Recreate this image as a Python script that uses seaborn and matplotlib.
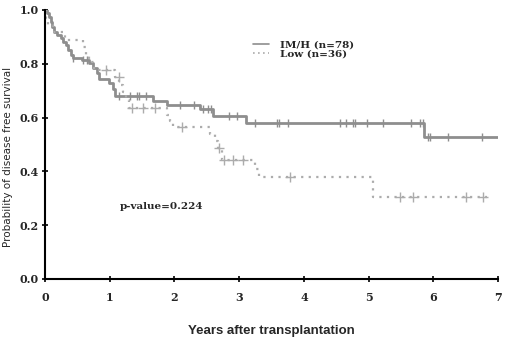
import numpy as np
import pandas as pd
import matplotlib
matplotlib.use("Agg")
import matplotlib.pyplot as plt
import seaborn as sns
from matplotlib.lines import Line2D

# IM/H (n=78) step curve
imh_t = [0, 0.036, 0.067, 0.088, 0.113, 0.139, 0.19, 0.242, 0.283, 0.325, 0.35, 0.397, 0.428,
         0.567, 0.685, 0.737, 0.799, 0.84, 0.994, 1.056, 1.082, 1.674, 1.881, 2.396, 2.601,
         3.107, 5.847, 6.99]
imh_s = [1.0, 0.99, 0.975, 0.957, 0.938, 0.919, 0.907, 0.895, 0.882, 0.87, 0.851, 0.833, 0.82,
         0.814, 0.802, 0.783, 0.767, 0.742, 0.728, 0.705, 0.68, 0.663, 0.647, 0.631, 0.606,
         0.581, 0.529, 0.529]
imh_cens = [0.438, 0.582, 0.654, 1.149, 1.314, 1.427, 1.458, 1.561, 2.087, 2.303, 2.447, 2.524,
            2.561, 2.849, 2.963, 3.246, 3.581, 3.621, 3.76, 4.559, 4.652, 4.765, 4.791, 4.981,
            5.219, 5.652, 5.796, 5.832, 5.915, 5.95, 6.218, 6.75]

# Low (n=36) step curve
low_t = [0, 0.02, 0.05, 0.12, 0.31, 0.59, 0.63, 0.68, 0.75, 1.08, 1.15, 1.2, 1.25, 1.3,
         1.88, 1.93, 1.98, 2.55, 2.62, 2.68, 2.74, 3.25, 3.3, 5.07, 6.83]
low_s = [1.0, 0.972, 0.944, 0.917, 0.889, 0.861, 0.833, 0.806, 0.778, 0.75, 0.722, 0.694,
         0.664, 0.634, 0.61, 0.588, 0.566, 0.54, 0.514, 0.486, 0.442, 0.41, 0.38, 0.306, 0.306]
low_cens = [0.943, 1.14, 1.35, 1.52, 1.70, 2.11, 2.69, 2.76, 2.91, 3.06, 3.78, 5.49, 5.68,
            6.50, 6.77]

labels = ["IM/H (n=78)", "Low (n=36)"]
p_text = "p-value=0.224"
xticks = [0, 1, 2, 3, 4, 5, 6, 7]
yticks = [0.0, 0.2, 0.4, 0.6, 0.8, 1.0]


def level_at(t_arr, s_arr, c):
    idx = np.searchsorted(np.array(t_arr), np.array(c), side="right") - 1
    return np.array(s_arr)[idx]


sns.set_style("ticks")
fig = plt.figure(figsize=(5.2, 3.44), dpi=100)
ax = fig.add_axes([0.0865, 0.189, 0.8715, 0.782])

c_solid = "#8e8e8e"
c_dot = "#acacac"

sns.lineplot(x=imh_t, y=imh_s, ax=ax, estimator=None, sort=False, drawstyle="steps-post",
             color=c_solid, linewidth=2.0)
sns.lineplot(x=low_t, y=low_s, ax=ax, estimator=None, sort=False, drawstyle="steps-post",
             color=c_dot, linewidth=1.6, linestyle=(0, (1, 2.4)))

sns.scatterplot(x=imh_cens, y=level_at(imh_t, imh_s, imh_cens), ax=ax, marker="|", s=40,
                color=c_solid, linewidth=1.0)
sns.scatterplot(x=low_cens, y=level_at(low_t, low_s, low_cens), ax=ax, marker="+", s=45,
                color=c_dot, linewidth=1.0)

ax.set_xlim(0, 7)
ax.set_ylim(0, 1.0)
ax.set_xticks(xticks)
ax.set_yticks(yticks)
ax.set_xticklabels([str(v) for v in xticks], family="DejaVu Serif", fontweight="bold", fontsize=8)
ax.set_yticklabels([f"{v:.1f}" for v in yticks], family="DejaVu Serif", fontweight="bold", fontsize=8)
ax.tick_params(axis="both", direction="inout", length=5, width=1.2, color="black", pad=2)
ax.tick_params(axis="x", pad=7)
for side in ["top", "right"]:
    ax.spines[side].set_visible(False)
for side in ["left", "bottom"]:
    ax.spines[side].set_color("black")
    ax.spines[side].set_linewidth(1.5)
    ax.spines[side].set_clip_on(False)

ax.set_xlabel("Years after transplantation", fontsize=9.5, fontweight="bold",
              family="Liberation Sans", labelpad=16)
ax.set_ylabel("Probability of disease free survival", fontsize=7.5, family="DejaVu Sans")
ax.yaxis.set_label_coords(-0.071, 0.452)

ax.text(1.15, 0.27, p_text, fontsize=7.5, fontweight="bold", family="DejaVu Serif",
        transform=ax.transData, va="center")

handles = [Line2D([], [], color=c_solid, linewidth=1.2),
           Line2D([], [], color=c_dot, linewidth=1.2, linestyle=(0, (1, 2)))]
leg = ax.legend(handles, labels, loc="upper left", bbox_to_anchor=(0.468, 0.91),
                bbox_transform=fig.transFigure, frameon=False, handlelength=1.6,
                handletextpad=1.0, labelspacing=0.0,
                prop={"family": "DejaVu Serif", "weight": "bold", "size": 7.5})

fig.savefig("out.png", dpi=100)
